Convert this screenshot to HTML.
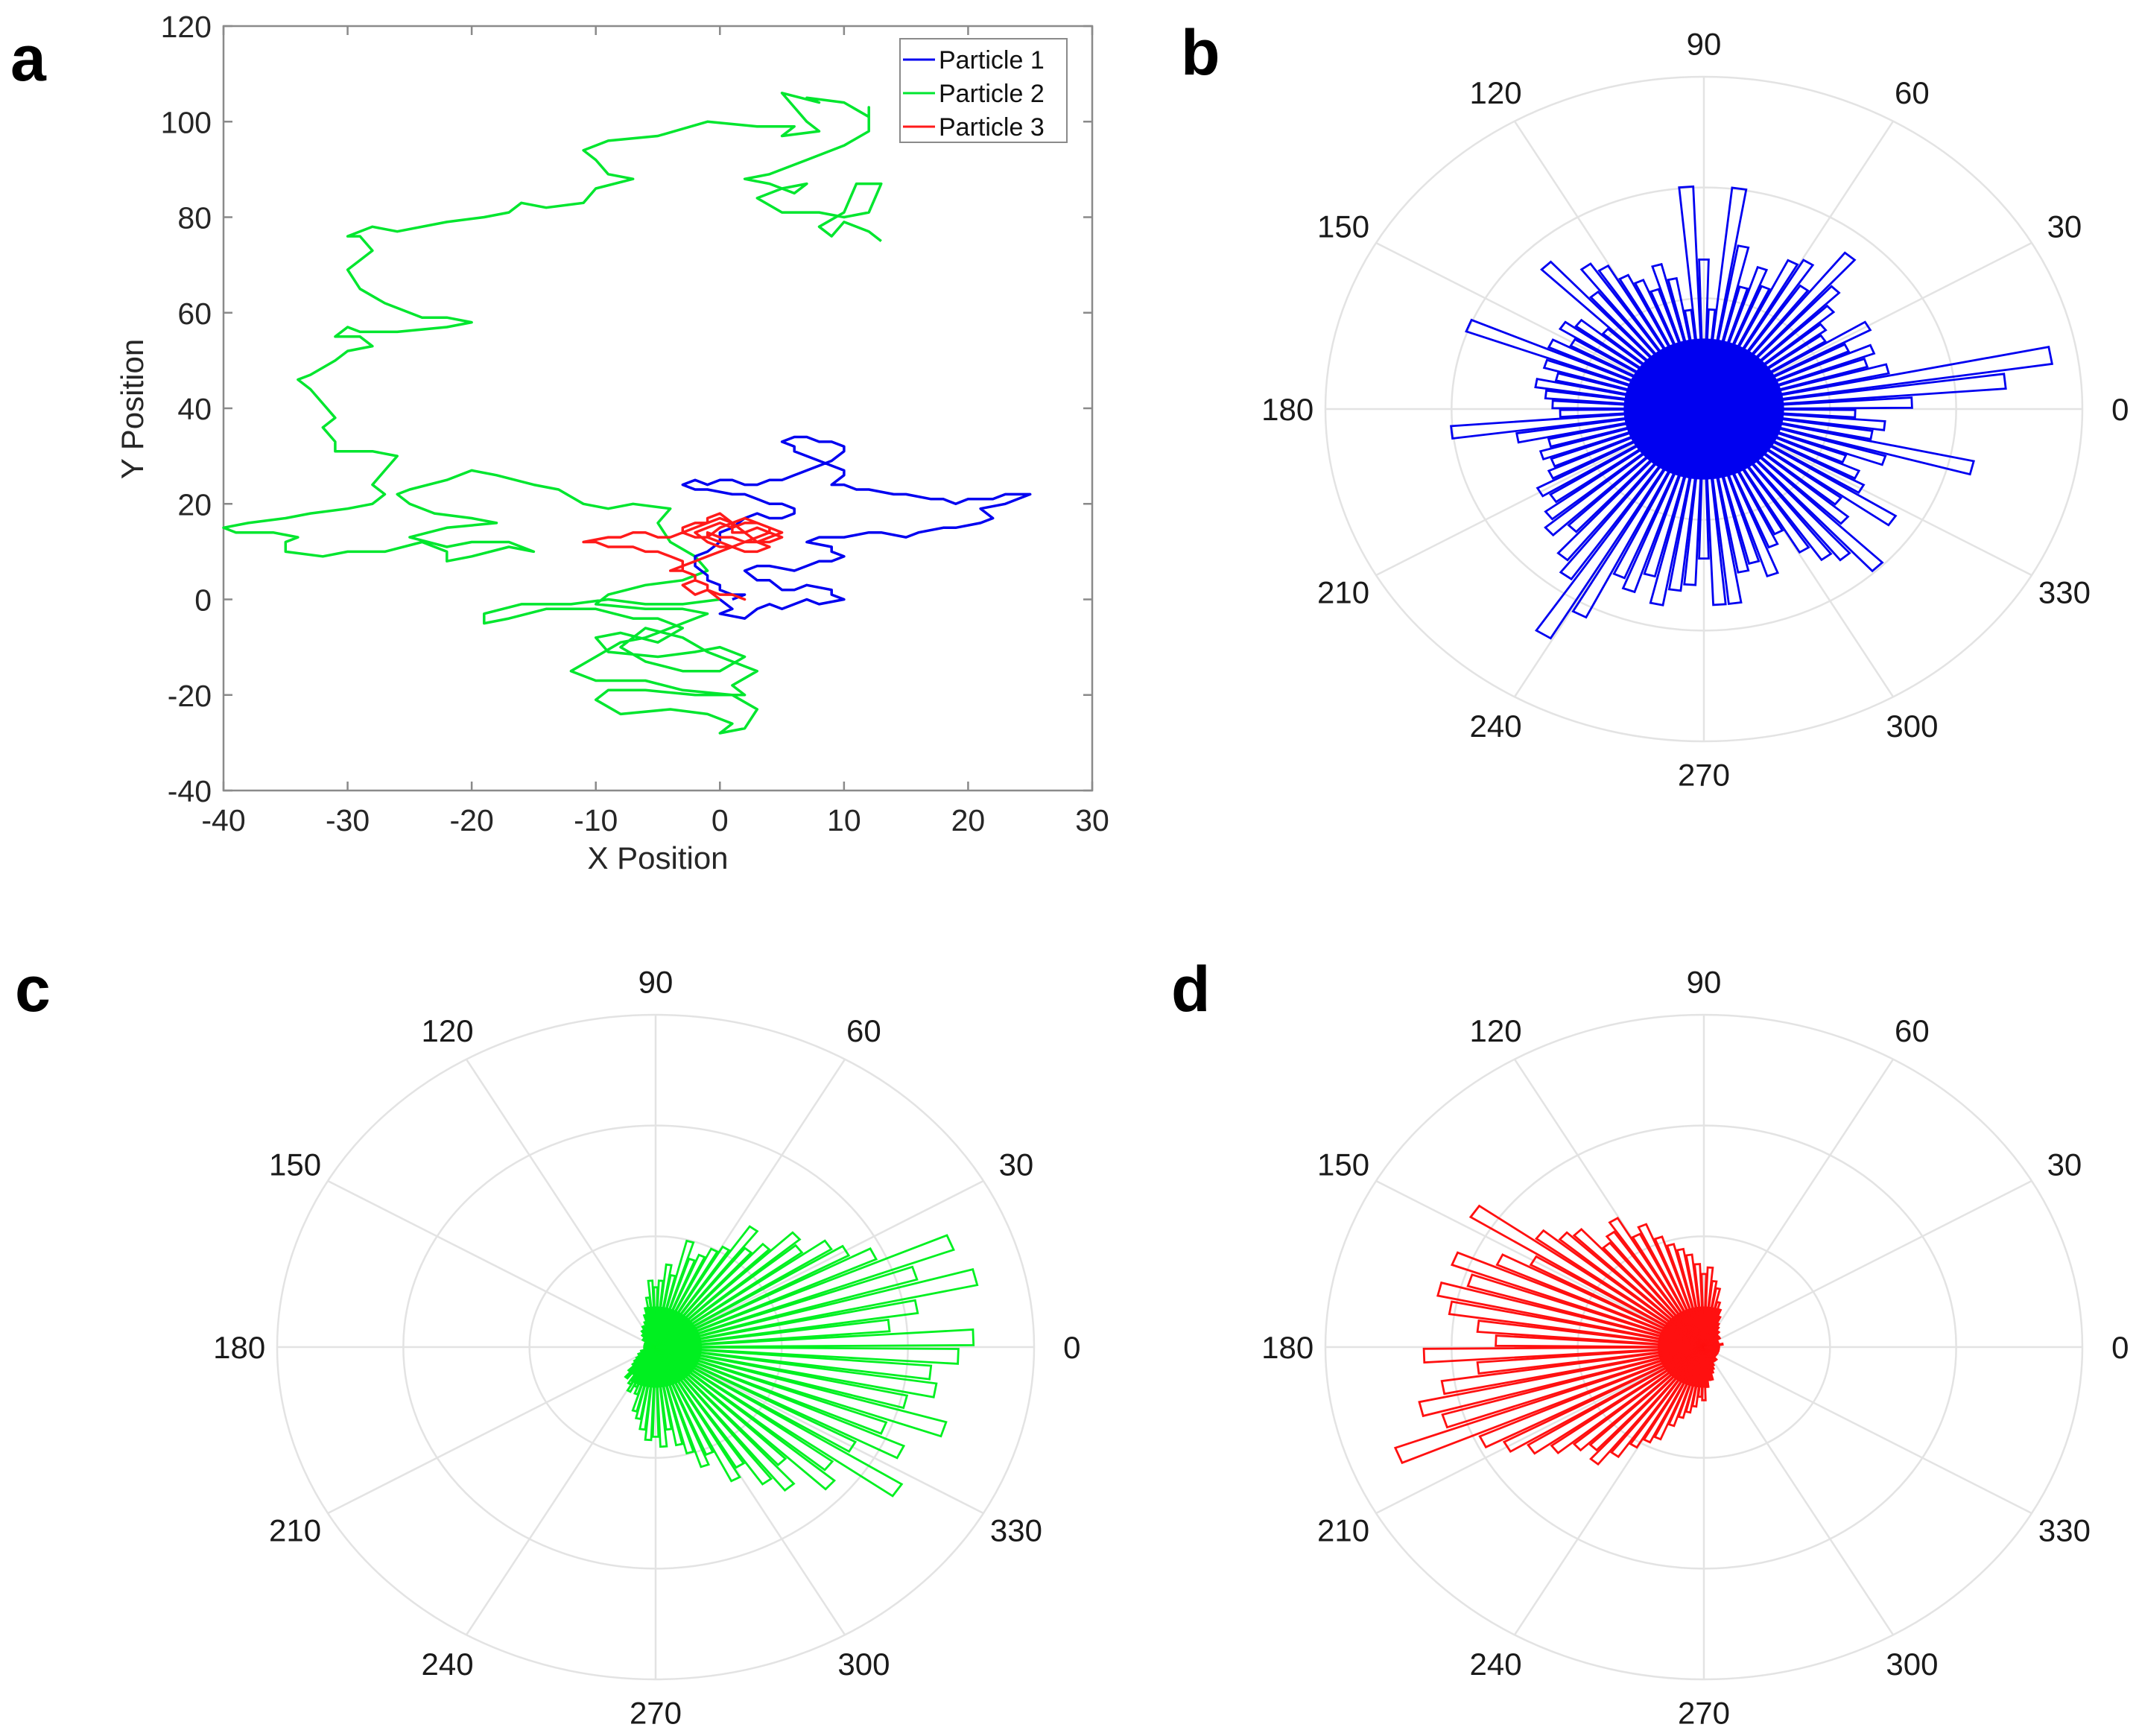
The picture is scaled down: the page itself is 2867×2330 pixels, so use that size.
<!DOCTYPE html>
<html><head><meta charset="utf-8"><style>
html,body{margin:0;padding:0;background:#fff}
svg{display:block}
text{font-family:"Liberation Sans",sans-serif}
</style></head><body>
<svg id="fig" width="2867" height="2330" viewBox="0 0 2867 2330" xmlns="http://www.w3.org/2000/svg">
<rect width="2867" height="2330" fill="#fff"/>
<text x="14" y="108" font-size="86" font-weight="bold">a</text>
<text x="1585" y="100" font-size="86" font-weight="bold">b</text>
<text x="20" y="1357" font-size="86" font-weight="bold">c</text>
<text x="1572" y="1357" font-size="86" font-weight="bold">d</text>
<g id="pa"></g>
<g id="pb"></g>
<g id="pc"></g>
<g id="pd"></g>
</svg>
<script>
const xTicks=[-40,-30,-20,-10,0,10,20,30];
const yTicks=[-40,-20,0,20,40,60,80,100,120];
const green=[[0,0],[-3,-1],[-6,-1],[-9,0],[-12,-1],[-16,-1],[-19,-3],[-19,-5],[-17,-4],[-14,-2],[-10,-2],[-7,-4],[-5,-4],[-3,-6],[-5,-9],[-8,-7],[-10,-8],[-9,-11],[-5,-12],[-2,-11],[0,-10],[2,-12],[0,-15],[-3,-15],[-6,-13],[-8,-10],[-6,-6],[-3,-8],[-1,-11],[1,-13],[3,-15],[1,-18],[2,-20],[-2,-20],[-6,-19],[-9,-19],[-10,-21],[-8,-24],[-4,-23],[-1,-24],[1,-26],[0,-28],[2,-27],[3,-23],[1,-20],[-3,-19],[-6,-17],[-10,-17],[-12,-15],[-10,-12],[-8,-9],[-6,-8],[-4,-6],[-2,-4],[-1,-3],[-3,-2],[-6,-2],[-10,-1],[-9,1],[-6,3],[-3,4],[-1,6],[-2,9],[-4,12],[-5,16],[-4,19],[-7,20],[-9,19],[-11,20],[-13,23],[-15,24],[-18,26],[-20,27],[-22,25],[-25,23],[-26,22],[-25,20],[-23,18],[-20,17],[-18,16],[-22,15],[-25,13],[-22,11],[-20,12],[-17,12],[-15,10],[-17,11],[-20,9],[-22,8],[-22,10],[-24,12],[-27,10],[-30,10],[-32,9],[-35,10],[-35,12],[-34,13],[-36,14],[-39,14],[-40,15],[-38,16],[-35,17],[-33,18],[-30,19],[-28,20],[-27,22],[-28,24],[-27,27],[-26,30],[-28,31],[-31,31],[-31,33],[-32,36],[-31,38],[-32,41],[-33,44],[-34,46],[-33,47],[-31,50],[-30,52],[-28,53],[-29,55],[-31,55],[-30,57],[-29,56],[-26,56],[-22,57],[-20,58],[-22,59],[-24,59],[-27,62],[-29,65],[-30,69],[-29,71],[-28,73],[-29,76],[-30,76],[-28,78],[-26,77],[-22,79],[-19,80],[-17,81],[-16,83],[-14,82],[-11,83],[-10,86],[-7,88],[-9,89],[-10,92],[-11,94],[-9,96],[-5,97],[-1,100],[3,99],[6,99],[5,97],[8,98],[7,100],[6,103],[5,106],[8,104],[7,105],[10,104],[12,101],[12,103],[12,98],[10,95],[7,92],[4,89],[2,88],[4,87],[6,85],[7,87],[5,86],[3,84],[5,81],[8,81],[10,80],[12,81],[13,87],[11,87],[10,81],[8,78],[9,76],[10,79],[12,77],[13,75]];
const blue=[[0,0],[1,-2],[0,-3],[2,-4],[3,-2],[4,-1],[5,-2],[6,-1],[7,0],[8,-1],[10,0],[9,1],[9,2],[7,3],[6,2],[5,2],[4,4],[3,4],[2,6],[3,7],[4,7],[6,6],[7,7],[8,8],[9,8],[10,9],[9,10],[9,11],[7,12],[8,13],[10,13],[12,14],[13,14],[15,13],[16,14],[18,15],[19,15],[21,16],[22,17],[21,19],[23,20],[24,21],[25,22],[23,22],[22,21],[20,21],[19,20],[18,21],[17,21],[15,22],[14,22],[12,23],[11,23],[10,24],[9,24],[10,26],[10,27],[9,28],[8,29],[7,30],[6,31],[6,32],[5,33],[6,34],[7,34],[8,33],[9,33],[10,32],[10,31],[9,29],[8,28],[7,27],[6,26],[5,25],[4,25],[3,24],[2,24],[1,25],[0,25],[-1,24],[-2,25],[-3,24],[-2,23],[-1,23],[1,22],[2,22],[3,21],[4,20],[5,20],[6,19],[6,18],[5,17],[4,17],[3,18],[2,17],[1,15],[0,14],[0,12],[-1,10],[-2,9],[-2,7],[-1,5],[-1,4],[0,3],[0,2],[1,1],[2,1],[1,0]];
const red=[[0,0],[-1,2],[-2,1],[-3,3],[-2,4],[-2,5],[-3,6],[-4,6],[-3,7],[-3,8],[-4,9],[-5,10],[-6,10],[-7,11],[-9,11],[-10,12],[-11,12],[-9,13],[-8,13],[-7,14],[-6,14],[-5,13],[-4,13],[-3,14],[-2,15],[-1,16],[0,17],[1,16],[1,15],[2,16],[3,16],[4,15],[5,14],[4,13],[3,12],[2,12],[1,13],[0,13],[-1,14],[-1,13],[0,12],[1,11],[2,10],[3,10],[4,11],[3,12],[2,14],[1,16],[0,18],[-1,17],[-1,16],[-2,16],[-3,15],[-3,14],[-2,13],[-1,13],[0,15],[1,16],[2,17],[3,16],[4,15],[4,14],[3,13],[2,12],[1,11],[0,11],[-1,12],[-2,14],[-1,15],[0,16],[1,15],[1,14],[2,14],[3,15],[4,14],[5,13],[4,12],[2,12],[1,11],[0,10],[-1,9],[-2,8],[-3,7],[-3,6],[-2,5],[-2,4],[-1,3],[-1,2],[0,1],[1,1],[2,0],[1,1],[0,1]];
const angleLabels=[0,30,60,90,120,150,180,210,240,270,300,330];
const binWidth=4;
const blueBins=[.55,.8,.93,.5,.45,.48,.42,.5,.38,.4,
.45,.5,.6,.45,.52,.5,.4,.45,.38,.5,
.67,.3,.45,.67,.3,.4,.45,.38,.42,.45,
.5,.53,.45,.6,.35,.42,.45,.4,.45,.67,
.44,.4,.45,.42,.4,.38,.67,.5,.42,.45,
.43,.45,.5,.48,.52,.55,.5,.58,.62,.8,
.7,.55,.58,.52,.6,.55,.53,.45,.59,.59,
.5,.48,.53,.45,.42,.5,.55,.58,.66,.5,
.45,.6,.48,.45,.4,.5,.73,.45,.48,.4];
const greenBins=[.84,.62,.7,.87,.72,.84,.64,.58,.55,.48,
.5,.42,.38,.44,.35,.33,.3,.28,.33,.22,
.25,.2,.18,.2,.15,.12,.1,.08,.06,.07,
.05,.06,.04,.05,.04,.03,.04,.03,.02,.03,
.02,.03,.02,.02,.03,.03,.02,.03,.03,.04,
.04,.05,.05,.06,.07,.08,.1,.12,.1,.13,
.15,.13,.15,.2,.22,.25,.28,.27,.3,.25,
.3,.33,.38,.35,.45,.42,.5,.55,.48,.62,
.58,.77,.6,.72,.65,.8,.68,.75,.73,.8];
const redBins=[.03,.04,.05,.03,.04,.03,.04,.03,.05,.04,
.05,.04,.06,.05,.07,.08,.1,.12,.14,.18,
.2,.24,.22,.25,.28,.3,.32,.35,.4,.38,
.45,.42,.4,.48,.5,.55,.73,.52,.6,.71,
.65,.72,.68,.6,.55,.74,.6,.7,.77,.72,
.87,.65,.6,.55,.5,.45,.42,.45,.4,.35,
.32,.3,.25,.22,.2,.18,.15,.16,.12,.1,
.1,.08,.07,.06,.05,.05,.04,.05,.04,.03,
.04,.03,.04,.03,.04,.03,.04,.03,.04,.03];

const NS="http://www.w3.org/2000/svg";
function mk(tag,attrs,parent,txt){const e=document.createElementNS(NS,tag);for(const k in attrs)e.setAttribute(k,attrs[k]);if(txt!==undefined)e.textContent=txt;parent.appendChild(e);return e;}

// Panel a
const L=300,R=1466,T=35,B=1061;
const sx=v=>L+(v-(-40))/(30-(-40))*(R-L);
const sy=v=>B-(v-(-40))/(120-(-40))*(B-T);
const pa=document.getElementById('pa');
const box=mk('rect',{x:L,y:T,width:R-L,height:B-T,fill:'none',stroke:'#8a8a8a','stroke-width':2.5},pa);


xTicks.forEach(v=>{
  mk('line',{x1:sx(v),x2:sx(v),y1:B,y2:B-12,stroke:'#8a8a8a','stroke-width':2.5},pa);
  mk('line',{x1:sx(v),x2:sx(v),y1:T,y2:T+12,stroke:'#8a8a8a','stroke-width':2.5},pa);
  const t=mk('text',{x:sx(v),y:B+54,'font-size':41,'text-anchor':'middle',fill:'#262626'},pa,String(v));
  
  
});
yTicks.forEach(v=>{
  mk('line',{x1:L,x2:L+12,y1:sy(v),y2:sy(v),stroke:'#8a8a8a','stroke-width':2.5},pa);
  mk('line',{x1:R,x2:R-12,y1:sy(v),y2:sy(v),stroke:'#8a8a8a','stroke-width':2.5},pa);
  const t=mk('text',{x:284,y:sy(v)+15,'font-size':41,'text-anchor':'end',fill:'#262626'},pa,String(v));
  
  
});
const xt=mk('text',{x:(L+R)/2,y:1166,'font-size':42,'text-anchor':'middle',fill:'#262626'},pa,'X Position');


const yt=mk('text',{x:0,y:0,'font-size':42,'text-anchor':'middle',fill:'#262626',transform:'translate(192,549) rotate(-90)'},pa,'Y Position');


function path(data,color,name){
  const d=data.map((p,i)=>(i?'L':'M')+sx(p[0]).toFixed(1)+' '+sy(p[1]).toFixed(1)).join('');
  const e=mk('path',{d:d,fill:'none',stroke:color,'stroke-width':3.5,'stroke-linejoin':'round'},pa);
  
  
}
path(green,'#00e62e','particle-2-path');
path(blue,'#0000f0','particle-1-path');
path(red,'#ff1a1a','particle-3-path');
// legend
const lg=mk('g',{},pa);


mk('rect',{x:1208,y:52,width:224,height:139,fill:'#fff',stroke:'#8a8a8a','stroke-width':2},lg);
[['Particle 1','#0000f0'],['Particle 2','#00e62e'],['Particle 3','#ff1a1a']].forEach((e,i)=>{
  const y=80+i*45;
  const g=mk('g',{},lg);
  
  
  mk('line',{x1:1212,x2:1255,y1:y,y2:y,stroke:e[1],'stroke-width':3},g);
  mk('text',{x:1260,y:y+12,'font-size':34,fill:'#111'},g,e[0]);
});

// polar panels
const RX=508,RY=446;
function polar(id,cx,cy,bins,color,coreR){
  const g=document.getElementById(id);
  [1/3,2/3,1].forEach(f=>{
    const r=mk('ellipse',{cx:cx,cy:cy,rx:RX*f,ry:RY*f,fill:'none',stroke:'#e3e3e3','stroke-width':2.5},g);
    
    
  });
  angleLabels.forEach(a=>{
    const t=a*Math.PI/180;
    const sp=mk('line',{x1:cx,y1:cy,x2:cx+RX*Math.cos(t),y2:cy-RY*Math.sin(t),stroke:'#e3e3e3','stroke-width':2.5},g);
    
    
    const lb=mk('text',{x:cx+RX*1.1*Math.cos(t),y:cy-RY*1.1*Math.sin(t)+15,'font-size':42,'text-anchor':'middle',fill:'#1a1a1a'},g,String(a));
    
    
  });
  const corePts=[];
  bins.forEach((v,i)=>{
    const r=Math.min(v,coreR);
    [i*binWidth,(i+1)*binWidth].forEach(d=>{const t=d*Math.PI/180;corePts.push((cx+RX*r*Math.cos(t)).toFixed(1)+','+(cy-RY*r*Math.sin(t)).toFixed(1));});
  });
  const c=mk('polygon',{points:corePts.join(' '),fill:color,stroke:color,'stroke-width':2},g);
  
  
  bins.forEach((v,i)=>{
    const a1=(i*binWidth+0.4)*Math.PI/180,a2=((i+1)*binWidth-0.4)*Math.PI/180;
    const pts=[[cx,cy],[cx+RX*v*Math.cos(a1),cy-RY*v*Math.sin(a1)],[cx+RX*v*Math.cos(a2),cy-RY*v*Math.sin(a2)]];
    const p=mk('polygon',{points:pts.map(q=>q[0].toFixed(1)+','+q[1].toFixed(1)).join(' '),fill:'none',stroke:color,'stroke-width':2.8,'stroke-linejoin':'miter'},g);
    
    
  });
}
polar('pb',2287,549,blueBins,'#0000f0',0.21);
polar('pc',880,1808,greenBins,'#00f020',0.12);
polar('pd',2287,1808,redBins,'#ff1010',0.12);
</script>
</body></html>
